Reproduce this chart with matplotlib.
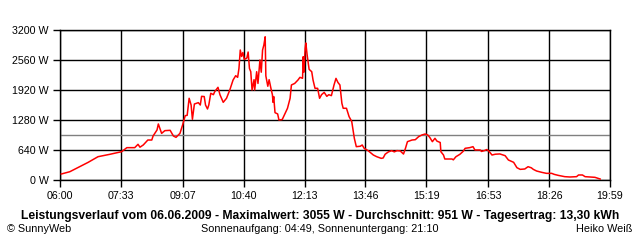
import matplotlib
matplotlib.use("Agg")
import matplotlib.pyplot as plt

# Minuten seit 06:00 und Leistung in W
minutes = [2, 15, 43, 58, 76, 94, 102, 114, 119, 122, 127, 134, 140, 142, 148, 150,
           155, 160, 168, 173, 177, 183, 187, 191, 194, 196, 197, 200, 202, 205, 211,
           214, 216, 220, 222, 225, 227, 230, 234, 236, 241, 244, 249, 254, 259, 264,
           268, 271, 273, 275, 277, 279, 281, 285, 287, 289, 291, 293, 296, 297, 300,
           302, 305, 307, 309, 311, 313, 314, 317, 319, 322, 324, 325, 326, 328, 332,
           334, 339, 343, 347, 351, 353, 358, 363, 366, 370, 371, 372, 374, 375, 377,
           380, 384, 386, 389, 393, 396, 399, 403, 407, 410, 414, 418, 421, 424, 427,
           430, 432, 437, 441, 445, 449, 452, 458, 461, 464, 470, 478, 483, 490, 493,
           496, 501, 506, 510, 514, 519, 524, 527, 530, 537, 542, 547, 552, 557, 561,
           564, 568, 572, 575, 580, 581, 585, 587, 598, 600, 604, 610, 615, 618, 625,
           630, 633, 641, 643, 648, 651, 654, 659, 664, 671, 679, 684, 692, 697, 702,
           709, 714, 719, 722, 727, 735, 742, 750, 754, 760, 770, 778, 788, 791, 797,
           801, 809, 816, 824]
watts = [128, 177, 377, 497, 548, 604, 690, 690, 761, 700, 747, 853, 853, 939, 1067, 1195,
         995, 1053, 1060, 939, 910, 995, 1173, 1372, 1380, 1636, 1743, 1600, 1295, 1621, 1650,
         1600, 1785, 1780, 1600, 1515, 1600, 1850, 1820, 1884, 1977, 1820, 1657, 1743, 1920, 2133,
         2225, 2190, 2382, 2773, 2635, 2720, 2574, 2600, 2730, 2380, 2310, 1920, 2140, 1920, 2310,
         2060, 2560, 2300, 2773, 2880, 3055, 2222, 2000, 2140, 1940, 1820, 1657, 1780, 1436, 1410,
         1280, 1290, 1410, 1529, 1743, 2027, 2060, 2133, 2190, 2170, 2630, 2300, 2809, 2923, 2667,
         2361, 2310, 2133, 1956, 1956, 1743, 1820, 1870, 1785, 1820, 1800, 2027, 2168, 2080, 2027,
         1636, 1530, 1530, 1351, 1250, 889, 711, 720, 747, 676, 626, 533, 498, 462, 470,
         550, 600, 626, 600, 626, 620, 554, 676, 818, 853, 860, 924, 960, 981, 960,
         910, 818, 889, 830, 800, 604, 533, 448, 448, 430, 497, 548, 611, 676, 690,
         711, 640, 640, 610, 630, 650, 620, 533, 550, 556, 519, 427, 377, 263, 227,
         235, 284, 260, 227, 192, 163, 142, 142, 120, 99, 71, 64, 71, 107, 107,
         71, 64, 57, 21]

durchschnitt = 951
y_ticks = [0, 640, 1280, 1920, 2560, 3200]
x_ticks = [0, 93, 187, 280, 373, 466, 559, 653, 746, 839]
x_labels = ['06:00', '07:33', '09:07', '10:40', '12:13', '13:46', '15:19', '16:53', '18:26', '19:59']

plt.rcParams['font.family'] = ['Liberation Sans', 'DejaVu Sans']

fig = plt.figure(figsize=(6.4, 2.4), dpi=100)
ax = fig.add_axes([60 / 640, 60 / 240, 550 / 640, 150 / 240])

ax.axhline(durchschnitt, color='#808080', lw=1.0, zorder=2)
ax.plot(minutes, watts, color='#ff0000', lw=1.1, zorder=3)

ax.set_xlim(0, 839)
ax.set_ylim(0, 3200)
ax.set_xticks(x_ticks)
ax.set_xticklabels(x_labels)
ax.set_yticks(y_ticks)
ax.set_yticklabels([f'{v} W' for v in y_ticks])
ax.grid(True, color='black', lw=1.0, zorder=1)
ax.set_axisbelow(True)
for s in ax.spines.values():
    s.set_color('black')
    s.set_linewidth(1.0)
ax.tick_params(length=5, width=1.0, labelsize=7.7, pad=3, colors='black')

fig.text(0.5, 24 / 240, 'Leistungsverlauf vom 06.06.2009 - Maximalwert: 3055 W - Durchschnitt: 951 W'
         ' - Tagesertrag: 13,30 kWh', ha='center', va='center', fontsize=8.7, fontweight='bold')
fig.text(7 / 640, 11 / 240, '© SunnyWeb', ha='left', va='center', fontsize=7.8)
fig.text(320 / 640, 11 / 240, 'Sonnenaufgang: 04:49, Sonnenuntergang: 21:10', ha='center',
         va='center', fontsize=7.8)
fig.text(632 / 640, 11 / 240, 'Heiko Weiß', ha='right', va='center', fontsize=7.8)

fig.savefig('out.png', dpi=100, facecolor='white')
